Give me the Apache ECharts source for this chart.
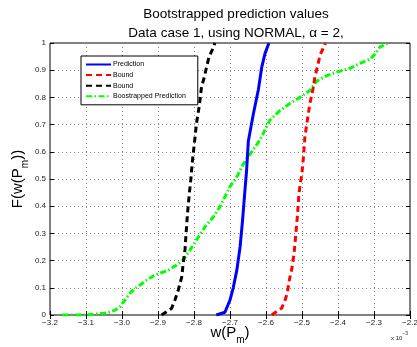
<!DOCTYPE html>
<html>
<head>
<meta charset="utf-8">
<script src="https://cdn.jsdelivr.net/npm/echarts@6/dist/echarts.min.js"></script>
<style>
  html, body { margin: 0; padding: 0; background: #fff; }
  #chart { width: 417px; height: 347px; }
</style>
</head>
<body>
<div id="chart"></div>
<script>
// x values are in units of 1e-3 (see the "x 10^-3" axis multiplier)
const xTicks = [-3.2, -3.1, -3.0, -2.9, -2.8, -2.7, -2.6, -2.5, -2.4, -2.3, -2.2];
const yTicks = [0, 0.1, 0.2, 0.3, 0.4, 0.5, 0.6, 0.7, 0.8, 0.9, 1];

// Prediction CDF
const predX = [-2.738, -2.714, -2.700, -2.691, -2.681, -2.672, -2.665, -2.659, -2.654, -2.649, -2.635, -2.621, -2.612, -2.603, -2.592];
const predF = [0, 0.01, 0.055, 0.10, 0.165, 0.25, 0.35, 0.45, 0.53, 0.64, 0.74, 0.83, 0.91, 0.96, 1.0];

// Upper bound CDF
const upperX = [-2.584, -2.556, -2.547, -2.541, -2.535, -2.529, -2.522, -2.517, -2.513, -2.509, -2.505, -2.501, -2.496, -2.492, -2.485, -2.478, -2.470, -2.464, -2.456, -2.450, -2.439, -2.435];
const upperF = [0, 0.026, 0.055, 0.08, 0.13, 0.165, 0.227, 0.30, 0.36, 0.435, 0.485, 0.51, 0.58, 0.655, 0.717, 0.778, 0.827, 0.876, 0.919, 0.956, 0.986, 1.0];

// Lower bound CDF
const lowerX = [-2.890, -2.862, -2.853, -2.844, -2.834, -2.830, -2.825, -2.822, -2.820, -2.818, -2.813, -2.809, -2.805, -2.800, -2.793, -2.785, -2.779, -2.771, -2.765, -2.758, -2.746, -2.742];
const lowerF = [0, 0.025, 0.055, 0.09, 0.14, 0.19, 0.24, 0.30, 0.337, 0.374, 0.447, 0.496, 0.558, 0.619, 0.705, 0.772, 0.84, 0.876, 0.913, 0.95, 0.984, 1.0];

// Bootstrapped prediction CDF
const bootX = [-3.165, -3.100, -3.066, -3.038, -3.019, -3.006, -2.992, -2.978, -2.964, -2.950, -2.931, -2.908, -2.890, -2.871, -2.848, -2.830, -2.811, -2.793, -2.769, -2.746, -2.728, -2.714, -2.700, -2.681, -2.663, -2.645, -2.617, -2.589, -2.561, -2.533, -2.506, -2.478, -2.459, -2.431, -2.404, -2.367, -2.339, -2.311, -2.297, -2.283, -2.260];
const bootF = [0, 0, 0.004, 0.009, 0.018, 0.03, 0.055, 0.08, 0.098, 0.11, 0.129, 0.147, 0.156, 0.165, 0.184, 0.202, 0.239, 0.276, 0.325, 0.361, 0.398, 0.435, 0.472, 0.508, 0.555, 0.59, 0.643, 0.717, 0.752, 0.778, 0.80, 0.825, 0.86, 0.88, 0.893, 0.907, 0.925, 0.94, 0.96, 0.986, 1.0];

const seriesNames = ['Prediction', 'Bound', 'Bound ', 'Boostrapped Prediction'];

const pairs = (xs, ys) => xs.map((x, i) => [x, ys[i]]);
const FONT = '"Liberation Sans", Arial, Helvetica, sans-serif';
const fmtX = v => {
  const s = Math.abs(v).toFixed(1);
  return (v < 0 ? '\u2212' : '') + s;
};
const fmtY = v => {
  const r = Math.round(v * 10) / 10;
  return r === 0 || r === 1 ? String(r) : r.toFixed(1);
};

const tickStyle = { show: true, inside: true, length: 4, lineStyle: { color: '#000', width: 1 } };
const gridLine = { show: true, lineStyle: { color: '#8a8a8a', type: [1, 3], width: 1 } };
const nameRich = {
  a: { fontFamily: FONT, fontSize: 15, color: '#000', verticalAlign: 'top', lineHeight: 22 },
  s: { fontFamily: FONT, fontSize: 10, color: '#000', verticalAlign: 'top', padding: [10, 0, 0, 0], lineHeight: 22 }
};

const chart = echarts.init(document.getElementById('chart'), null, { renderer: 'canvas' });

chart.setOption({
  animation: false,
  backgroundColor: '#fff',
  textStyle: { fontFamily: FONT },
  title: {
    text: 'Bootstrapped prediction values\nData case 1, using NORMAL, \u03b1 = 2,',
    left: 231,
    textAlign: 'center',
    top: 0,
    textStyle: { fontFamily: FONT, fontSize: 13.5, fontWeight: 'normal', color: '#000', lineHeight: 19 }
  },
  grid: {
    left: 50, top: 43, width: 360, height: 272,
    containLabel: false,
    outerBoundsMode: 'none',
    show: true, borderColor: '#000', borderWidth: 1, backgroundColor: '#fff'
  },
  legend: {
    orient: 'vertical',
    left: 81, top: 56,
    padding: [5, 12, 5, 4],
    itemGap: 3.6,
    itemWidth: 25,
    itemHeight: 8,
    borderColor: '#000', borderWidth: 1, borderRadius: 0,
    backgroundColor: '#fff',
    itemStyle: { opacity: 0 },
    textStyle: { fontFamily: FONT, fontSize: 7, color: '#000', padding: [0, 0, 0, -3] },
    data: seriesNames,
    formatter: n => n.trim()
  },
  xAxis: [{
    type: 'value', position: 'bottom',
    min: xTicks[0], max: xTicks[xTicks.length - 1], interval: 0.1,
    axisLine: { show: false },
    axisTick: tickStyle,
    splitLine: gridLine,
    axisLabel: { fontFamily: FONT, fontSize: 8, color: '#222', margin: 4, formatter: fmtX },
    name: '{a|w(P}{s|m}{a|)}',
    nameLocation: 'middle',
    nameMoveOverlap: false,
    nameGap: 10,
    nameTextStyle: { rich: nameRich }
  }, {
    type: 'value', position: 'top',
    min: xTicks[0], max: xTicks[xTicks.length - 1], interval: 0.1,
    axisLine: { show: false },
    axisTick: tickStyle,
    splitLine: { show: false },
    axisLabel: { show: false }
  }],
  yAxis: [{
    type: 'value', position: 'left',
    min: yTicks[0], max: yTicks[yTicks.length - 1], interval: 0.1,
    axisLine: { show: false },
    axisTick: tickStyle,
    splitLine: gridLine,
    axisLabel: { fontFamily: FONT, fontSize: 8, color: '#222', margin: 4, formatter: fmtY },
    name: '{a|F(w(P}{s|m}{a|))}',
    nameLocation: 'middle',
    nameMoveOverlap: false,
    nameRotate: 90,
    nameGap: 18,
    nameTextStyle: { rich: nameRich }
  }, {
    type: 'value', position: 'right',
    min: yTicks[0], max: yTicks[yTicks.length - 1], interval: 0.1,
    axisLine: { show: false },
    axisTick: tickStyle,
    splitLine: { show: false },
    axisLabel: { show: false }
  }],
  graphic: [{
    type: 'text',
    left: 391, top: 331,
    style: {
      text: '{b|x 10}{e|\u22123}',
      rich: {
        b: { fontFamily: FONT, fontSize: 6, fill: '#222', verticalAlign: 'bottom', lineHeight: 10 },
        e: { fontFamily: FONT, fontSize: 5, fill: '#222', verticalAlign: 'top', padding: [0, 0, 4, 0], lineHeight: 10 }
      }
    }
  }],
  series: [
    {
      name: seriesNames[0], type: 'line', symbol: 'none', z: 5,
      data: pairs(predX, predF),
      lineStyle: { color: '#0000ff', width: 3, cap: 'butt' },
      itemStyle: { color: '#0000ff' }
    },
    {
      name: seriesNames[1], type: 'line', symbol: 'none', z: 4,
      data: pairs(upperX, upperF),
      lineStyle: { color: '#ff0000', width: 3, type: [6, 4], cap: 'butt' },
      itemStyle: { color: '#ff0000' }
    },
    {
      name: seriesNames[2], type: 'line', symbol: 'none', z: 4,
      data: pairs(lowerX, lowerF),
      lineStyle: { color: '#000000', width: 3, type: [6, 4], cap: 'butt' },
      itemStyle: { color: '#000000' }
    },
    {
      name: seriesNames[3], type: 'line', symbol: 'none', z: 3,
      data: pairs(bootX, bootF),
      lineStyle: { color: '#00ff00', width: 3, type: [6, 2.5, 1.5, 2.5], cap: 'butt' },
      itemStyle: { color: '#00ff00' }
    }
  ]
});
</script>
</body>
</html>
